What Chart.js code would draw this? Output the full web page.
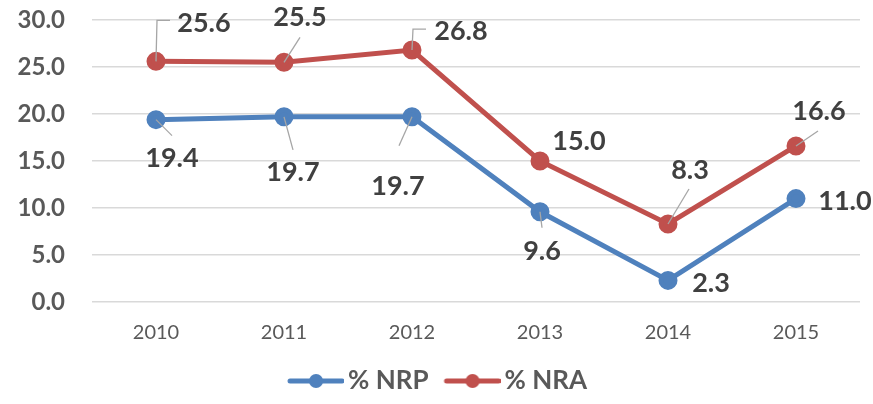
<!DOCTYPE html>
<html>
<head>
<meta charset="utf-8">
<script src="https://cdn.jsdelivr.net/npm/chart.js@4.4.1/dist/chart.umd.min.js"></script>
<style>
  html, body { margin: 0; padding: 0; background: #fff; }
  #wrap { width: 873px; height: 404px; }
</style>
</head>
<body>
<div id="wrap"><canvas id="chart"></canvas></div>
<script>
const years = ["2010", "2011", "2012", "2013", "2014", "2015"];
const nrp = [19.4, 19.7, 19.7, 9.6, 2.3, 11.0];
const nra = [25.6, 25.5, 26.8, 15.0, 8.3, 16.6];

const BLUE = "#4f81bd";
const RED = "#c0504d";
const FONT = "Lato, 'Open Sans', sans-serif";

// posición de etiquetas (dx, dy respecto al punto) y línea guía
const nrpLabels = [
  { dx: 16, dy: 39, lead: [[0, 0], [16, 16]] },
  { dx: 9, dy: 55, lead: [[0, 0], [9, 33]] },
  { dx: -14, dy: 69, lead: [[0, 0], [-13, 29]] },
  { dx: 2, dy: 40, lead: [[0, 0], [2, 16]] },
  { dx: 43, dy: 3, lead: null },
  { dx: 49, dy: 3, lead: null },
];
const nraLabels = [
  { dx: 48, dy: -38, lead: [[0, 0], [1, -41], [14, -41]] },
  { dx: 16, dy: -45, lead: [[0, 0], [16, -25]] },
  { dx: 49, dy: -19, lead: [[0, 0], [1, -21], [14, -21]] },
  { dx: 39, dy: -20, lead: null },
  { dx: 22, dy: -54, lead: [[0, 0], [21, -35]] },
  { dx: 23, dy: -35, lead: [[0, 0], [22, -15]] },
];

// icono de leyenda: línea con punto, con margen a la izquierda para separar los items
function legendIcon(color) {
  const c = document.createElement("canvas");
  c.width = 80;
  c.height = 16;
  const g = c.getContext("2d");
  g.strokeStyle = color;
  g.lineWidth = 5;
  g.lineCap = "round";
  g.beginPath();
  g.moveTo(26, 8);
  g.lineTo(78, 8);
  g.stroke();
  g.fillStyle = color;
  g.beginPath();
  g.arc(52, 8, 7, 0, Math.PI * 2);
  g.fill();
  return c;
}
const icons = [legendIcon(BLUE), legendIcon(RED)];

const dataLabels = {
  id: "dataLabels",
  afterDatasetsDraw(chart) {
    const ctx = chart.ctx;
    const sets = [nrpLabels, nraLabels];
    chart.data.datasets.forEach((ds, i) => {
      const meta = chart.getDatasetMeta(i);
      meta.data.forEach((pt, j) => {
        const cfg = sets[i][j];
        ctx.save();
        if (cfg.lead) {
          ctx.strokeStyle = "#a6a6a6";
          ctx.lineWidth = 1.3;
          ctx.beginPath();
          cfg.lead.forEach(([lx, ly], k) => {
            if (k === 0) ctx.moveTo(pt.x + lx, pt.y + ly);
            else ctx.lineTo(pt.x + lx, pt.y + ly);
          });
          ctx.stroke();
        }
        ctx.fillStyle = "#404040";
        ctx.font = "bold 27px " + FONT;
        ctx.textAlign = "center";
        ctx.textBaseline = "middle";
        ctx.fillText(ds.data[j].toFixed(1), pt.x + cfg.dx, pt.y + cfg.dy);
        ctx.restore();
      });
    });
  },
};

new Chart(document.getElementById("chart"), {
  type: "line",
  data: {
    labels: years,
    datasets: [
      {
        label: "% NRP",
        data: nrp,
        borderColor: BLUE,
        backgroundColor: BLUE,
        borderWidth: 5,
        pointRadius: 7,
        pointHoverRadius: 7,
        tension: 0,
      },
      {
        label: "% NRA",
        data: nra,
        borderColor: RED,
        backgroundColor: RED,
        borderWidth: 5,
        pointRadius: 7,
        pointHoverRadius: 7,
        tension: 0,
      },
    ],
  },
  options: {
    responsive: true,
    maintainAspectRatio: false,
    animation: false,
    layout: { autoPadding: false, padding: { top: 20, right: 13, left: 0, bottom: 0 } },
    plugins: {
      tooltip: { enabled: false },
      legend: {
        position: "bottom",
        labels: {
          usePointStyle: true,
          pointStyleWidth: 62,
          color: "#595959",
          padding: 1,
          font: { family: FONT, size: 26, weight: "bold" },
          generateLabels(chart) {
            const items = Chart.defaults.plugins.legend.labels.generateLabels(chart);
            items.forEach((it, i) => { it.pointStyle = icons[i]; });
            return items;
          },
        },
      },
    },
    scales: {
      x: {
        offset: true,
        afterFit(scale) { scale.height = 65; },
        grid: { display: false },
        border: { display: false },
        ticks: { color: "#595959", padding: 11, font: { family: FONT, size: 20 } },
      },
      y: {
        min: 0,
        max: 30,
        afterFit(scale) {
          scale.width = 92;
          scale.paddingTop = 0;
          scale.paddingBottom = 0;
        },
        grid: { color: "#d9d9d9", lineWidth: 1.5, drawTicks: false },
        border: { display: false },
        ticks: {
          stepSize: 5,
          padding: 27,
          color: "#595959",
          font: { family: FONT, size: 24, weight: "bold" },
          callback: (v) => v.toFixed(1),
        },
      },
    },
  },
  plugins: [dataLabels],
});
</script>
</body>
</html>
